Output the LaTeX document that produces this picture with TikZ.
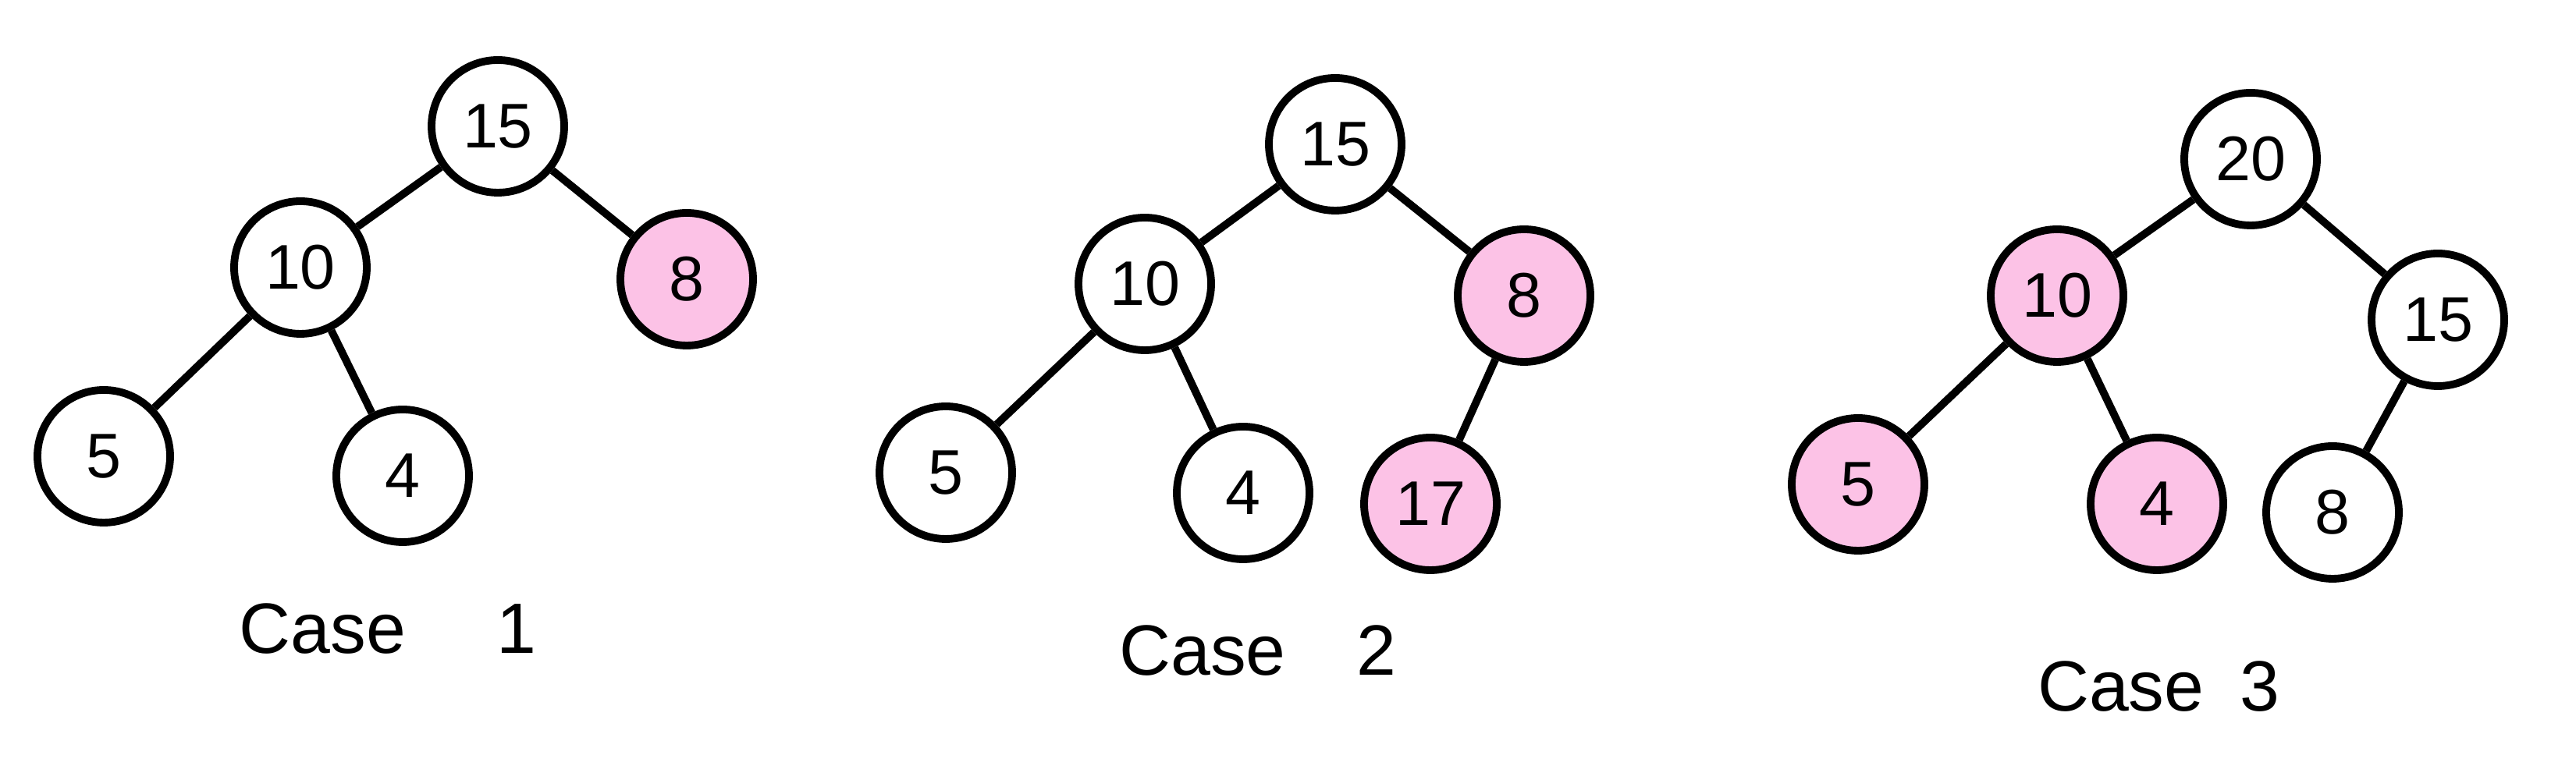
\documentclass[tikz,border=0pt]{standalone}
\usepackage{xcolor}
\usepackage{fontspec}
\setmainfont{Liberation Sans}
\usepackage{tikz}
\definecolor{heap_pink}{RGB}{252, 194, 230}

\begin{document}
\begin{tikzpicture}[
    every node/.style={circle, draw, line width=2.8pt, minimum size=1.70cm, inner sep=0pt, font=\fontsize{23}{27}\selectfont},
    marked/.style={fill=heap_pink},
    caption/.style={draw=none, rectangle, minimum size=0pt, font=\fontsize{26}{30}\selectfont}
  ]

    \useasboundingbox (0,0) rectangle (33.01,10);

    % Case 1
    \node (a15) at (6.38,8.38) {15};
    \node (a10) at (3.85,6.57) {10};
    \node[marked] (a8) at (8.80,6.42) {8};
    \node (a5) at (1.33,4.15) {5};
    \node (a4) at (5.16,3.90) {4};
    \node[caption] (c1) at (4.97,1.94) {Case\quad\ 1};

    % Case 2
    \node (b15) at (17.11,8.15) {15};
    \node (b10) at (14.67,6.36) {10};
    \node[marked] (b8) at (19.53,6.21) {8};
    \node (b5) at (12.12,3.94) {5};
    \node (b4) at (15.93,3.68) {4};
    \node[marked] (b17) at (18.33,3.54) {17};
    \node[caption] (c2) at (16.12,1.66) {Case\quad 2};

    % Case 3
    \node (c20) at (28.84,7.96) {20};
    \node[marked] (c10) at (26.36,6.21) {10};
    \node (c15) at (31.24,5.90) {15};
    \node[marked] (c5) at (23.81,3.79) {5};
    \node[marked] (c4) at (27.64,3.54) {4};
    \node (c8) at (29.89,3.43) {8};
    \node[caption] (c3) at (27.66,1.20) {Case\enspace 3};

    % Edges
    \foreach \from/\to in {a15/a10, a15/a8, a10/a5, a10/a4,
                           b15/b10, b15/b8, b10/b5, b10/b4, b8/b17,
                           c20/c10, c20/c15, c10/c5, c10/c4, c15/c8} {
      \draw[line width=2.8pt] (\from) -- (\to);
    }

  \end{tikzpicture}
\end{document}
